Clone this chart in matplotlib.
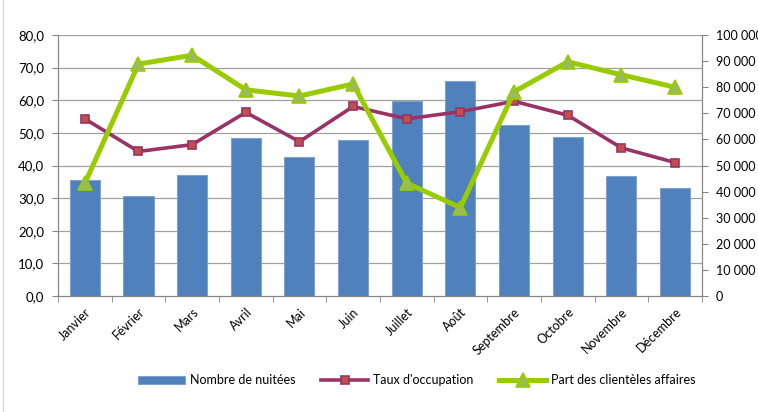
import numpy as np
import matplotlib
matplotlib.use("Agg")
import matplotlib.pyplot as plt
from matplotlib.ticker import FuncFormatter, MultipleLocator

# Data
mois = ["Janvier", "Février", "Mars", "Avril", "Mai", "Juin", "Juillet",
        "Août", "Septembre", "Octobre", "Novembre", "Décembre"]
nuitees = [44300, 38300, 46400, 60400, 53100, 59900, 74600,
           82300, 65400, 60900, 45900, 41300]
taux_occupation = [54.3, 44.3, 46.4, 56.3, 47.3, 58.1, 54.3,
                   56.5, 59.7, 55.4, 45.4, 40.9]
part_affaires = [34.5, 71.1, 73.8, 63.2, 61.3, 65.0, 34.6,
                 27.1, 62.6, 71.8, 67.8, 64.0]

plt.rcParams['font.family'] = ['Lato', 'DejaVu Sans']
plt.rcParams['font.size'] = 9

fig = plt.figure(figsize=(7.58, 4.12), dpi=100)
ax = fig.add_axes([0.0765, 0.2816, 0.8495, 0.6334])
ax2 = ax.twinx()

x = np.arange(len(mois))

# bars on the right axis, drawn below the lines
ax2.bar(x, nuitees, width=0.56, color="#4F81BD", edgecolor="#7FA3D0",
        linewidth=0.8, label="Nombre de nuitées", zorder=2)
ax2.set_ylim(0, 100000)
ax2.yaxis.set_major_locator(MultipleLocator(10000))
ax2.yaxis.set_major_formatter(FuncFormatter(lambda v, p: f"{int(v):,}".replace(",", " ")))

ax.set_zorder(ax2.get_zorder() + 1)
ax.patch.set_visible(False)

l1, = ax.plot(x, taux_occupation, color="#993366", linewidth=2.6, marker="s",
              markersize=6, markerfacecolor="#C0504D", markeredgecolor="#993366",
              markeredgewidth=1.2, label="Taux d'occupation")
l2, = ax.plot(x, part_affaires, color="#99CC00", linewidth=3.6, marker="^",
              markersize=10, markerfacecolor="#9BBB59", markeredgecolor="#99CC00",
              markeredgewidth=1.2, label="Part des clientèles affaires")

ax.set_ylim(0, 80)
ax.set_xlim(-0.5, len(mois) - 0.5)
ax.yaxis.set_major_locator(MultipleLocator(10))
ax.yaxis.set_major_formatter(FuncFormatter(lambda v, p: f"{v:.1f}".replace(".", ",")))

# gridlines behind everything
ax2.grid(False)
for v in np.arange(10, 90, 10):
    ax2.axhline(v * 1250, color="#A0A0A0", linewidth=0.9, zorder=0)

ax.set_xticks(x)
ax.set_xticklabels(mois, rotation=45, ha="right", rotation_mode="anchor")
ax.tick_params(axis="x", which="major", length=0, pad=7)
ax.set_xticks(np.arange(-0.5, len(mois)), minor=True)
ax.tick_params(axis="x", which="minor", length=4, color="#868686")
ax.tick_params(axis="y", length=4, color="#868686", pad=6, labelsize=9.5)
ax2.tick_params(axis="y", length=4, color="#868686", pad=6, labelsize=9)

for a in (ax, ax2):
    a.spines["top"].set_visible(False)
    for s in ("left", "right", "bottom"):
        a.spines[s].set_color("#868686")

handles = [ax2.containers[0], l1, l2]
labels = ["Nombre de nuitées", "Taux d'occupation", "Part des clientèles affaires"]
fig.legend(handles, labels, loc="center", bbox_to_anchor=(0.55, 0.077), ncol=3,
           frameon=False, handlelength=3.8, columnspacing=2.0, handletextpad=0.4,
           fontsize=9)

# chart border
fig.add_artist(plt.Line2D([0.004, 0.004], [0, 1], color="#D9D9D9", linewidth=1))

fig.savefig("out.png", dpi=100)
